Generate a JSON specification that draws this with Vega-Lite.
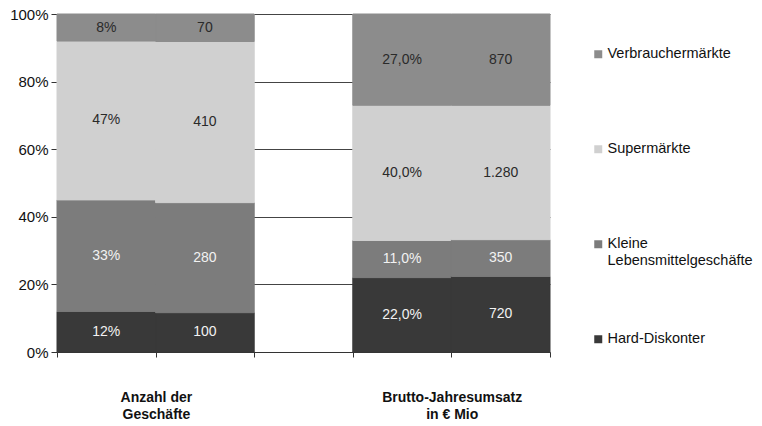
{
  "$schema": "https://vega.github.io/schema/vega-lite/v6.json",
  "width": 493,
  "height": 338,
  "padding": {"left": 9, "top": 7, "right": 0, "bottom": 0},
  "config": {
    "font": "Liberation Sans",
    "view": {"stroke": null},
    "axis": {"labelFont": "Liberation Sans", "labelColor": "#111"}
  },
  "data": {
    "values": [
      {"bar": "A%", "cat": "Hard-Diskonter", "value": 12, "label": "12%"},
      {"bar": "A%", "cat": "Kleine Lebensmittelgeschäfte", "value": 33, "label": "33%"},
      {"bar": "A%", "cat": "Supermärkte", "value": 47, "label": "47%"},
      {"bar": "A%", "cat": "Verbrauchermärkte", "value": 8, "label": "8%"},
      {"bar": "A#", "cat": "Hard-Diskonter", "value": 100, "label": "100"},
      {"bar": "A#", "cat": "Kleine Lebensmittelgeschäfte", "value": 280, "label": "280"},
      {"bar": "A#", "cat": "Supermärkte", "value": 410, "label": "410"},
      {"bar": "A#", "cat": "Verbrauchermärkte", "value": 70, "label": "70"},
      {"bar": "B%", "cat": "Hard-Diskonter", "value": 22, "label": "22,0%"},
      {"bar": "B%", "cat": "Kleine Lebensmittelgeschäfte", "value": 11, "label": "11,0%"},
      {"bar": "B%", "cat": "Supermärkte", "value": 40, "label": "40,0%"},
      {"bar": "B%", "cat": "Verbrauchermärkte", "value": 27, "label": "27,0%"},
      {"bar": "B#", "cat": "Hard-Diskonter", "value": 720, "label": "720"},
      {"bar": "B#", "cat": "Kleine Lebensmittelgeschäfte", "value": 350, "label": "350"},
      {"bar": "B#", "cat": "Supermärkte", "value": 1280, "label": "1.280"},
      {"bar": "B#", "cat": "Verbrauchermärkte", "value": 870, "label": "870"}
    ]
  },
  "encoding": {
    "x": {
      "field": "bar",
      "type": "nominal",
      "scale": {"domain": ["A%", "A#", "gap", "B%", "B#"], "paddingInner": 0, "paddingOuter": 0},
      "axis": {
        "title": null,
        "tickBand": "extent",
        "tickSize": 5,
        "tickColor": "#333",
        "domainColor": "#333",
        "labelAngle": 0,
        "labelOffset": -49,
        "labelPadding": 33,
        "labelFontSize": 14,
        "labelFontWeight": "bold",
        "labelLineHeight": 17,
        "labelBaseline": "top",
        "labelExpr": "datum.value == 'A#' ? ['Anzahl der', 'Geschäfte'] : datum.value == 'B#' ? ['Brutto-Jahresumsatz', 'in € Mio'] : ''"
      }
    },
    "order": {"field": "cat", "sort": "ascending"}
  },
  "layer": [
    {
      "mark": {"type": "bar", "width": {"band": 1}, "strokeWidth": 1},
      "encoding": {
        "y": {
          "field": "value",
          "type": "quantitative",
          "stack": "normalize",
          "scale": {"domain": [0, 1]},
          "axis": {
            "title": null,
            "format": ".0%",
            "values": [0, 0.2, 0.4, 0.6, 0.8, 1],
            "grid": true,
            "gridColor": "#444",
            "gridWidth": 1,
            "domain": false,
            "tickSize": 6,
            "tickColor": "#333",
            "labelFontSize": 15,
            "labelPadding": 3
          }
        },
        "color": {
          "field": "cat",
          "type": "nominal",
          "scale": {
            "domain": ["Verbrauchermärkte", "Supermärkte", "Kleine Lebensmittelgeschäfte", "Hard-Diskonter"],
            "range": ["#8c8c8c", "#d0d0d0", "#7c7c7c", "#393939"]
          },
          "legend": {
            "title": null,
            "orient": "none",
            "legendX": 534,
            "legendY": 33,
            "symbolType": "square",
            "symbolSize": 64,
            "symbolStrokeWidth": 0,
            "labelFontSize": 14.5,
            "labelColor": "#111",
            "labelOffset": 2,
            "labelLimit": 300,
            "rowPadding": 63,
            "labelExpr": "datum.label == 'Kleine Lebensmittelgeschäfte' ? ['Kleine', 'Lebensmittelgeschäfte'] : [datum.label, ' ']"
          }
        },
        "stroke": {
          "field": "cat",
          "type": "nominal",
          "legend": null,
          "scale": {
            "domain": ["Verbrauchermärkte", "Supermärkte", "Kleine Lebensmittelgeschäfte", "Hard-Diskonter"],
            "range": ["#8c8c8c", "#d0d0d0", "#7c7c7c", "#393939"]
          }
        }
      }
    },
    {
      "mark": {"type": "text", "fontSize": 14, "baseline": "middle"},
      "encoding": {
        "y": {"field": "value", "type": "quantitative", "stack": "normalize", "bandPosition": 0.5},
        "detail": {"field": "cat"},
        "text": {"field": "label"},
        "color": {
          "condition": {"test": "datum.cat == 'Hard-Diskonter' || datum.cat == 'Kleine Lebensmittelgeschäfte'", "value": "#f2f2f2"},
          "value": "#2a2a2a"
        }
      }
    }
  ]
}
